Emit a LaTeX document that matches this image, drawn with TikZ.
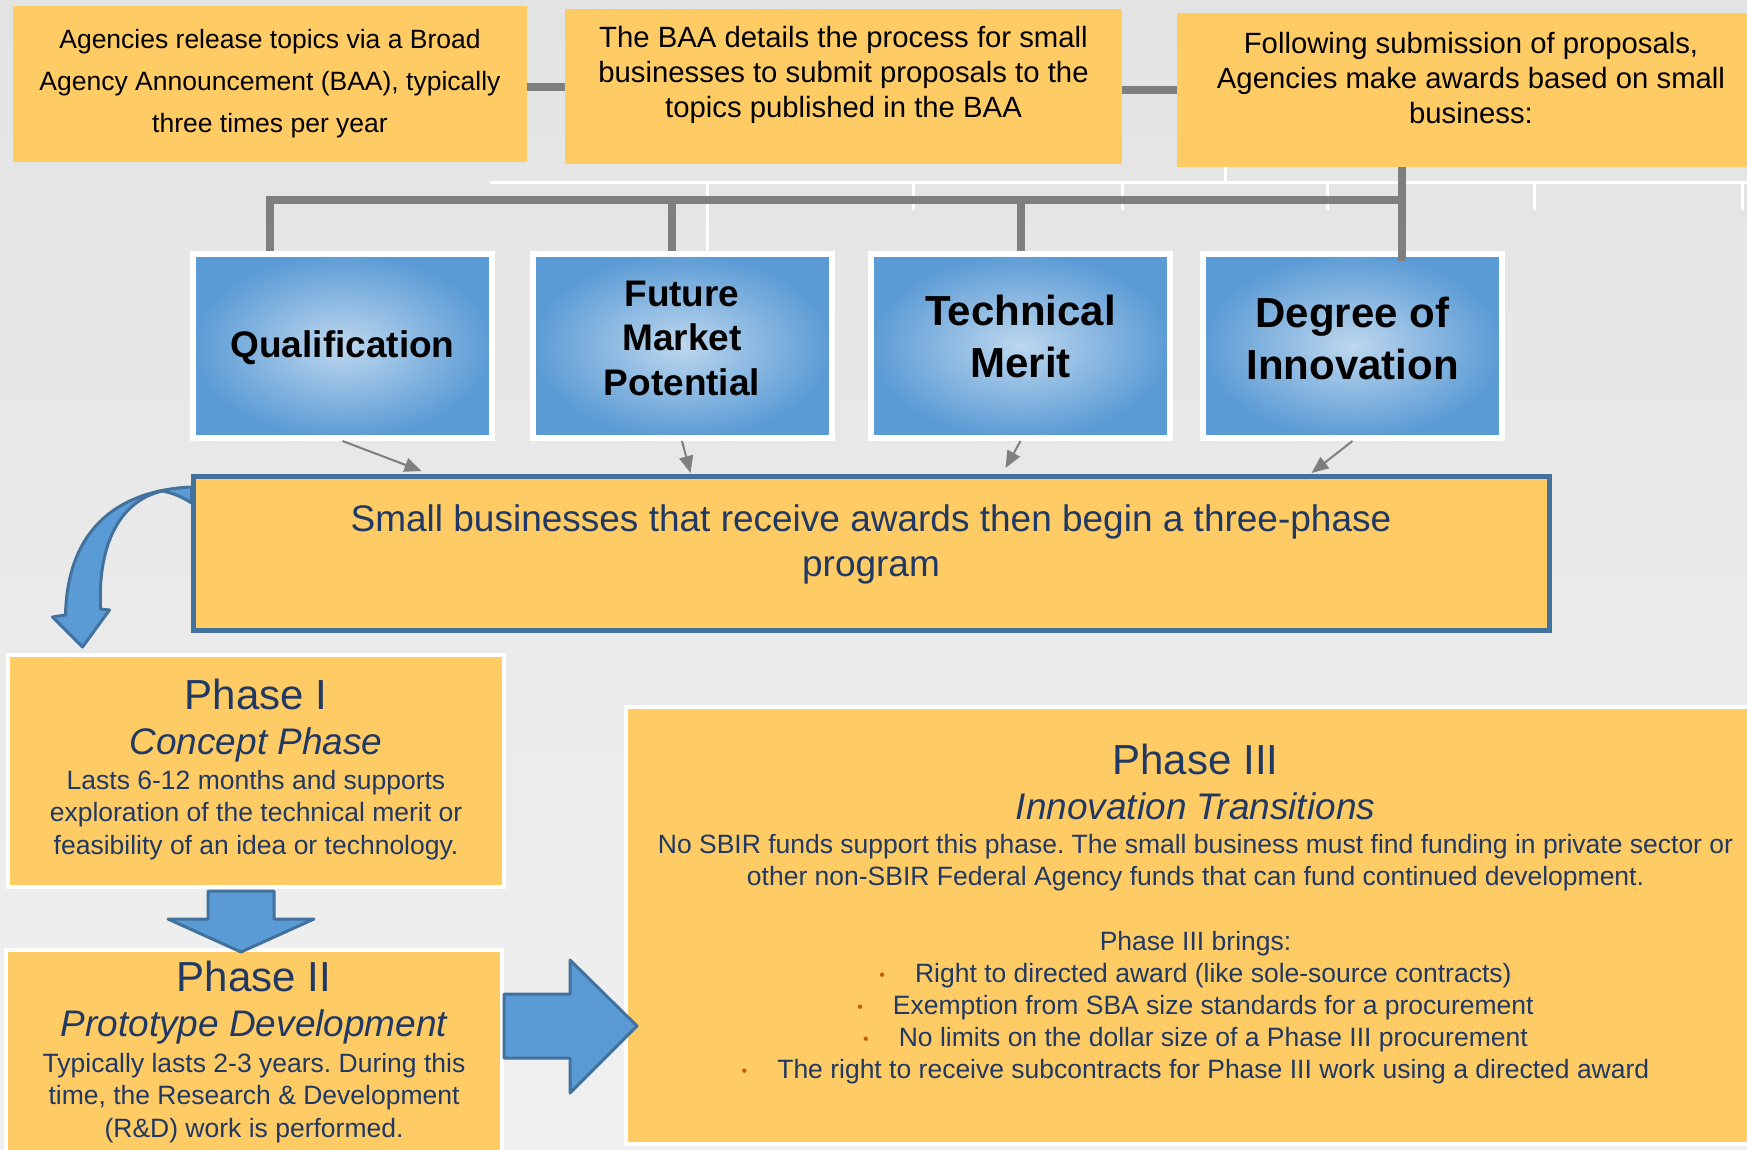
\documentclass[tikz,border=0pt]{standalone}
\usepackage{fontspec}
\setmainfont{Liberation Sans}
\usepackage{xcolor}
\usepackage{tikz}
\usetikzlibrary{arrows.meta, positioning, calc}
\definecolor{BoxGold}{HTML}{FFCB65}
\definecolor{TextNavy}{HTML}{1F3864}
\definecolor{BlueEdge}{HTML}{5B9BD5}
\definecolor{BlueCore}{HTML}{BDD7EE}
\definecolor{FrameBlue}{HTML}{41719C}
\definecolor{LinkGray}{HTML}{7F7F7F}
\definecolor{BulletOrange}{HTML}{C55A11}
\definecolor{BgTop}{HTML}{E3E3E3}
\definecolor{BgBottom}{HTML}{F0F0F0}
\newcommand{\fixspace}{\leftskip=0pt plus 1fil\rightskip=0pt plus 1fil\parfillskip=0pt
  \spaceskip=0pt\xspaceskip=0pt\frenchspacing\relax}
\newcommand{\bulletmark}{\textcolor{BulletOrange}{\raisebox{2pt}{\fontsize{16}{16}\selectfont\textbullet}}\hspace{30pt}}

\begin{document}
\begin{tikzpicture}[x=1pt, y=-1pt,
    topbox/.style={fill=BoxGold, inner sep=0pt, anchor=north, align=center, text=black},
    critbox/.style={inner color=BlueCore, outer color=BlueEdge, draw=white, line width=6pt,
      inner sep=0pt, anchor=north, minimum width=299pt, text width=280pt, align=center,
      font=\bfseries\fontsize{37}{44.6}\selectfont},
    progbox/.style={fill=BoxGold, draw=FrameBlue, line width=5pt, inner sep=0pt,
      anchor=north, align=center, text=TextNavy},
    phasebox/.style={fill=BoxGold, draw=white, line width=4pt, inner sep=0pt,
      anchor=north, align=center, text=TextNavy},
    link/.style={draw=LinkGray, line width=8pt},
    feed/.style={draw=LinkGray, line width=2pt, -{Triangle[length=17pt, width=14pt]}},
    blockarrow/.style={fill=BlueEdge, draw=FrameBlue, line width=3pt, line join=round},
    ghost/.style={draw=white, line width=3pt}
  ]
    \useasboundingbox (0,0) rectangle (1747,1150);
    % Background
    \shade[top color=BgTop, bottom color=BgBottom] (0,0) rectangle (1747,1150);
    \draw[ghost] (490,183) -- (1747,183);
    \foreach \gx in {913,1122,1327,1534,1742}
      \draw[ghost] (\gx,183) -- (\gx,210);
    \draw[ghost] (707,183) -- (707,250);
    \draw[ghost] (1225,167) -- (1225,183);

    % Top row
    \node[topbox, minimum width=514pt, text width=500pt, text height=42pt, text depth=114pt,
          font=\fontsize{26.5}{42}\selectfont] (agency) at (270,6)
      {\fixspace Agencies release topics via a Broad\\Agency Announcement (BAA), typically\\three times per year\par};
    \node[topbox, minimum width=557pt, text width=545pt, text height=38pt, text depth=117pt,
          font=\fontsize{29.3}{35}\selectfont] (baa) at (843.5,9)
      {\fixspace The BAA details the process for small\\businesses to submit proposals to the\\topics published in the BAA\par};
    \node[topbox, minimum width=588pt, text width=575pt, text height=40pt, text depth=114pt,
          font=\fontsize{29.3}{35}\selectfont] (award) at (1471,13)
      {\fixspace Following submission of proposals,\\Agencies make awards based on small\\business:\par};
    \draw[link] (agency.east |- baa.west) -- (baa.west);
    \draw[link] (baa.east |- award.west) -- (award.west);

    % Award criteria
    \node[critbox, text height=103pt, text depth=81pt] (qual) at (342.5,251) {Qualification\par};
    \node[critbox, text height=52pt, text depth=132pt] (market) at (682,251) {\fixspace Future\\Market\\Potential\par};
    \node[critbox, text height=71pt, text depth=113pt, font=\bfseries\fontsize{42}{52}\selectfont] (merit) at (1020.5,251)
      {\fixspace Technical\\Merit\par};
    \node[critbox, text height=73pt, text depth=111pt, font=\bfseries\fontsize{42}{52}\selectfont] (innov) at (1352.5,251)
      {\fixspace Degree of\\Innovation\par};

    % Tree
    \coordinate (hub) at (1402,200);
    \draw[link] (hub |- award.south) -- ($(hub |- innov.north)+(0,10)$);
    \draw[link] ($(qual.north west)+(80,0)$) |- (hub);
    \draw[link] ($(market.north)+(-10,0)$) |- (hub);
    \draw[link] (merit.north) |- (hub);

    % Program
    \node[progbox, minimum width=1356pt, text width=1300pt, text height=55pt, text depth=99pt,
          font=\fontsize{37}{45}\selectfont] (prog) at (871,474)
      {\fixspace Small businesses that receive awards then begin a three-phase\\program\par};
    \draw[feed] (qual.south) -- ($(prog.north west)+(231,-3)$);
    \draw[feed] (market.south) -- ($(prog.north west)+(500,-1)$);
    \draw[feed] (merit.south) -- ($(prog.north west)+(815,-6)$);
    \draw[feed] (innov.south) -- ($(prog.north west)+(1121,-1)$);

    % Phases
    \node[phasebox, minimum width=496pt, text width=480pt, text height=54pt, text depth=178pt] (p1) at (256,653)
      {\fixspace
       {\fontsize{42}{45}\selectfont Phase I\par}
       {\fontsize{37}{45}\selectfont\itshape Concept Phase\par}
       \vspace{2.5pt}
       {\fontsize{26.5}{32.5}\selectfont Lasts 6-12 months and supports\\exploration of the technical merit or\\feasibility of an idea or technology.\par}};
    \node[phasebox, minimum width=496pt, text width=480pt, text height=41pt, text depth=171pt] (p2) at (254,948)
      {\fixspace
       {\fontsize{42}{45}\selectfont Phase II\par}
       {\fontsize{37}{45}\selectfont\itshape Prototype Development\par}
       \vspace{3.5pt}
       {\fontsize{26.5}{32.5}\selectfont Typically lasts 2-3 years. During this\\time, the Research \& Development\\(R\&D) work is performed.\par}};
    \node[phasebox, minimum width=1139pt, text width=1120pt, text height=67pt, text depth=370pt] (p3) at (1195.5,705)
      {\fixspace
       {\fontsize{42}{45}\selectfont Phase III\par}
       {\fontsize{37}{45}\selectfont\itshape Innovation Transitions\par}
       \vspace{2.5pt}
       {\fontsize{26.5}{32}\selectfont No SBIR funds support this phase. The small business must find funding in private sector or\\other non-SBIR Federal Agency funds that can fund continued development.\\[33pt]
        Phase III brings:\\
        \bulletmark Right to directed award (like sole-source contracts)\\
        \bulletmark Exemption from SBA size standards for a procurement\\
        \bulletmark No limits on the dollar size of a Phase III procurement\\
        \bulletmark The right to receive subcontracts for Phase III work using a directed award\par}};

    % Block arrows
    \begin{scope}[shift={(prog.north west)}]
      \draw[blockarrow] (1,13) .. controls (-68,16) and (-123,51) .. (-125,141)
        -- (-138,143) -- (-108,173) -- (-81,136) -- (-90,135)
        .. controls (-93,66) and (-68,26) .. (-28,17)
        .. controls (-18,19) and (-8,23) .. (1,29) -- cycle;
    \end{scope}
    \begin{scope}[shift={(p1.south west)}]
      \draw[blockarrow] (202,2) -- (268,2) -- (268,30) -- (308,30) -- (235,63)
        -- (162,30) -- (202,30) -- cycle;
    \end{scope}
    \begin{scope}[shift={(p2.north east)}]
      \draw[blockarrow] (0,46) -- (66,46) -- (66,12) -- (133,78) -- (66,145)
        -- (66,110) -- (0,110) -- cycle;
    \end{scope}
  \end{tikzpicture}
\end{document}
